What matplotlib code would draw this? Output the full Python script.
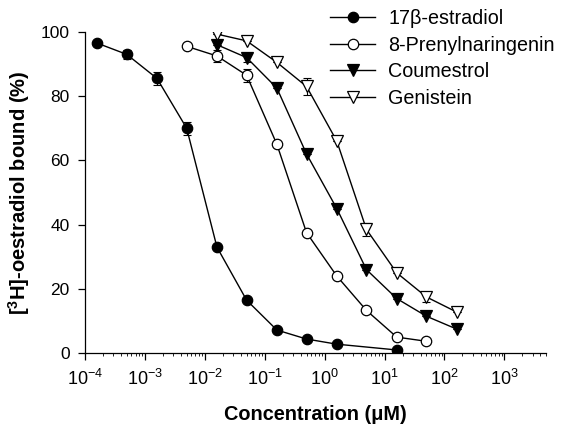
import matplotlib
matplotlib.use("Agg")
import matplotlib.pyplot as plt
import numpy as np
from matplotlib.ticker import LogLocator, FixedLocator, NullFormatter

plt.rcParams['font.family'] = ['Liberation Sans', 'DejaVu Sans']
plt.rcParams['mathtext.fontset'] = 'custom'
plt.rcParams['mathtext.rm'] = 'Liberation Sans'
plt.rcParams['mathtext.it'] = 'Liberation Sans:italic'
plt.rcParams['mathtext.bf'] = 'Liberation Sans:bold'

# Data (concentration in uM, % bound)
x_estradiol = [1.6e-4, 5e-4, 1.6e-3, 5e-3, 1.6e-2, 5e-2, 0.16, 0.5, 1.6, 16]
y_estradiol = [96.5, 93, 85.5, 70, 33, 16.5, 7.2, 4.4, 2.8, 1.0]
e_estradiol = [0, 1.5, 2.0, 2.0, 0, 0, 0, 0, 0, 0]

x_pn = [5e-3, 1.6e-2, 5e-2, 0.16, 0.5, 1.6, 5, 16, 50]
y_pn = [95.5, 92.5, 86.5, 65, 37.5, 24, 13.3, 5, 3.7]
e_pn = [0, 2.0, 2.0, 0, 0, 0, 0, 0, 0]

x_cou = [1.6e-2, 5e-2, 0.16, 0.5, 1.6, 5, 16, 50, 160]
y_cou = [96, 92, 82.5, 62, 45, 26, 17, 11.5, 7.5]
e_cou = [0, 1.5, 0, 0, 0, 0, 0, 0, 0]

x_gen = [1.6e-2, 5e-2, 0.16, 0.5, 1.6, 5, 16, 50, 160]
y_gen = [99.3, 97.2, 90.5, 83, 66, 38.5, 25, 17.5, 12.8]
e_gen = [0, 0, 0, 2.5, 0, 2.0, 0, 1.5, 0]

labels = ['17\u03b2-estradiol', '8-Prenylnaringenin', 'Coumestrol', 'Genistein']
xtick_vals = [1e-4, 1e-3, 1e-2, 1e-1, 1, 10, 100, 1000]
xtick_labels = ['$10^{-4}$', '$10^{-3}$', '$10^{-2}$', '$10^{-1}$',
                '$10^{0}$', '$10^{1}$', '$10^{2}$', '$10^{3}$']
ytick_vals = [0, 20, 40, 60, 80, 100]

fig = plt.figure(figsize=(5.62, 4.25), dpi=100)
ax = fig.add_axes([0.151, 0.169, 0.821, 0.756])

series = [
    (x_estradiol, y_estradiol, e_estradiol, 'o', 'black', 7.5),
    (x_pn, y_pn, e_pn, 'o', 'white', 7.5),
    (x_cou, y_cou, e_cou, 'v', 'black', 8),
    (x_gen, y_gen, e_gen, 'v', 'white', 8),
]
for (x, y, e, m, fc, ms), lab in zip(series, labels):
    ax.errorbar(x, y, yerr=e, fmt='none', ecolor='black', elinewidth=0.8,
                capsize=3, capthick=0.8, zorder=2)
    ax.plot(x, y, color='black', lw=1.0, marker=m, markerfacecolor=fc,
            markeredgecolor='black', markeredgewidth=0.9, markersize=ms,
            label=lab, zorder=3)

ax.set_xscale('log')
ax.set_xlim(1e-4, 5e3)
ax.set_ylim(0, 100)
ax.set_yticks(ytick_vals)
ax.xaxis.set_major_locator(FixedLocator(xtick_vals))
ax.xaxis.set_minor_locator(LogLocator(base=10, subs=np.arange(2, 10), numticks=20))
ax.xaxis.set_minor_formatter(NullFormatter())
ax.set_xticklabels(xtick_labels)

for s in ['top', 'right']:
    ax.spines[s].set_visible(False)
for s in ['left', 'bottom']:
    ax.spines[s].set_linewidth(0.9)
ax.tick_params(axis='both', which='major', direction='out', length=5, width=0.9,
               labelsize=12.5, pad=6)
ax.tick_params(axis='x', which='major', labelsize=13)
ax.tick_params(axis='x', which='minor', direction='out', length=2, width=0.6)

ax.set_xlabel('Concentration (\u03bcM)', fontsize=14.3, fontweight='bold', labelpad=12)
ax.set_ylabel('[$\\mathbf{^3}$H]-oestradiol bound (%)', fontsize=14.5, fontweight='bold', labelpad=6)

leg = ax.legend(loc='upper right', bbox_to_anchor=(1.035, 1.095), frameon=False,
                fontsize=14.2, handlelength=2.3, handletextpad=0.65, labelspacing=0.38,
                borderaxespad=0)

fig.savefig('out.png', dpi=100)
